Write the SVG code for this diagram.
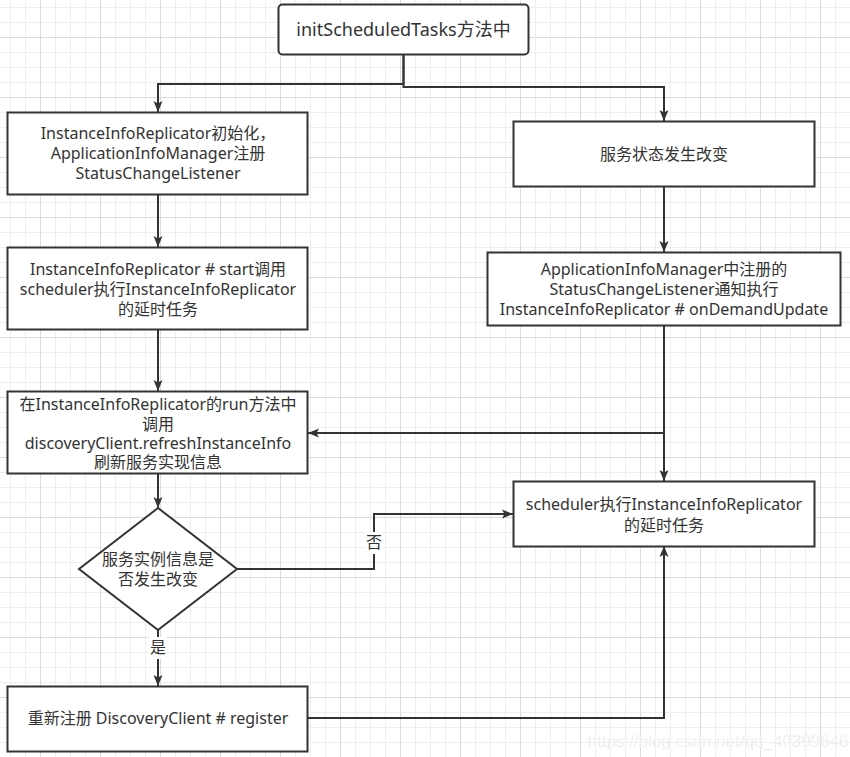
<svg xmlns="http://www.w3.org/2000/svg" width="850" height="757" viewBox="0 0 850 757">
<defs>
<pattern id="grid" patternUnits="userSpaceOnUse" x="40" y="37" width="60" height="60">
<rect x="0" y="0" width="60" height="60" fill="#ffffff"/>
<g fill="#eeeeee">
<rect x="15" y="0" width="1" height="60"/><rect x="30" y="0" width="1" height="60"/><rect x="45" y="0" width="1" height="60"/>
<rect x="0" y="15" width="60" height="1"/><rect x="0" y="30" width="60" height="1"/><rect x="0" y="45" width="60" height="1"/>
</g>
<g fill="#dcdcdc">
<rect x="0" y="0" width="1" height="60"/><rect x="0" y="0" width="60" height="1"/>
</g>
</pattern>
<marker id="arr" markerUnits="userSpaceOnUse" markerWidth="12" markerHeight="10" refX="11" refY="5" orient="auto">
<path d="M0,0.5 L11,5 L0,9.5 L2.5,5 Z" fill="#333333"/>
</marker>
</defs>
<style>
.box{fill:#ffffff;stroke:#333333;stroke-width:2}
.t{font-family:"Noto Sans","Noto Sans CJK SC",sans-serif;font-size:16px;fill:#333333;text-anchor:middle}
.big{font-size:18px}
.edge{fill:none;stroke:#333333;stroke-width:2;marker-end:url(#arr)}
.lbl{fill:#ffffff}
</style>
<rect x="0" y="0" width="850" height="757" fill="url(#grid)"/>

<g id="connectors">
<path class="edge" d="M403.5,55 V84 H158 V112"/>
<path class="edge" d="M403.5,55 V87 H664 V121"/>
<path class="edge" d="M158,195 V247"/>
<path class="edge" d="M158,330 V391"/>
<path class="edge" d="M158,474 V508"/>
<path class="edge" d="M664,187 V252"/>
<path class="edge" d="M664,326 V481"/>
<path class="edge" d="M664,433 H308"/>
<path class="edge" d="M237,569 H374 V514 H513"/>
<path class="edge" d="M158,630 V686"/>
<path class="edge" d="M308,718 H664 V546"/>
<rect class="lbl" x="365" y="532" width="18" height="22"/>
<text class="t" x="374" y="548">否</text>
<rect class="lbl" x="149" y="637" width="18" height="22"/>
<text class="t" x="158" y="653">是</text>
</g>

<g id="n-init">
<rect class="box" x="278.5" y="4.5" width="250" height="50" rx="4"/>
<text class="t big" x="403.5" y="36">initScheduledTasks方法中</text>
</g>
<g id="n-replicator-init">
<rect class="box" x="7.5" y="112.5" width="300" height="82"/>
<text class="t" x="158" y="139">InstanceInfoReplicator初始化，</text>
<text class="t" x="158" y="159">ApplicationInfoManager注册</text>
<text class="t" x="158" y="179">StatusChangeListener</text>
</g>
<g id="n-start">
<rect class="box" x="7.5" y="247.5" width="300" height="82"/>
<text class="t" x="158" y="275">InstanceInfoReplicator # start调用</text>
<text class="t" x="158" y="295">scheduler执行InstanceInfoReplicator</text>
<text class="t" x="158" y="315">的延时任务</text>
</g>
<g id="n-run">
<rect class="box" x="7.5" y="391.5" width="300" height="82"/>
<text class="t" x="158" y="410">在InstanceInfoReplicator的run方法中</text>
<text class="t" x="158" y="429.5">调用</text>
<text class="t" x="158" y="449">discoveryClient.refreshInstanceInfo</text>
<text class="t" x="158" y="468">刷新服务实现信息</text>
</g>
<g id="n-decision">
<polygon class="box" points="158,508 237,569 158,630 79,569"/>
<text class="t" x="158" y="565">服务实例信息是</text>
<text class="t" x="158" y="585">否发生改变</text>
</g>
<g id="n-register">
<rect class="box" x="7.5" y="686.5" width="300" height="65"/>
<text class="t" x="158" y="724">重新注册 DiscoveryClient # register</text>
</g>
<g id="n-status-change">
<rect class="box" x="513.5" y="121.5" width="301" height="65"/>
<text class="t" x="664" y="160">服务状态发生改变</text>
</g>
<g id="n-notify">
<rect class="box" x="487.5" y="252.5" width="353" height="73"/>
<text class="t" x="664" y="275">ApplicationInfoManager中注册的</text>
<text class="t" x="664" y="295">StatusChangeListener通知执行</text>
<text class="t" x="664" y="315">InstanceInfoReplicator # onDemandUpdate</text>
</g>
<g id="n-scheduler">
<rect class="box" x="513.5" y="481.5" width="301" height="65"/>
<text class="t" x="664" y="510">scheduler执行InstanceInfoReplicator</text>
<text class="t" x="664" y="531">的延时任务</text>
</g>
<text x="718" y="747" font-family="Liberation Sans, sans-serif" font-size="17" fill="#e4e4e4" stroke="#ffffff" stroke-width="0.5" text-anchor="middle">https://blog.csdn.net/qq_40399646</text>
</svg>
